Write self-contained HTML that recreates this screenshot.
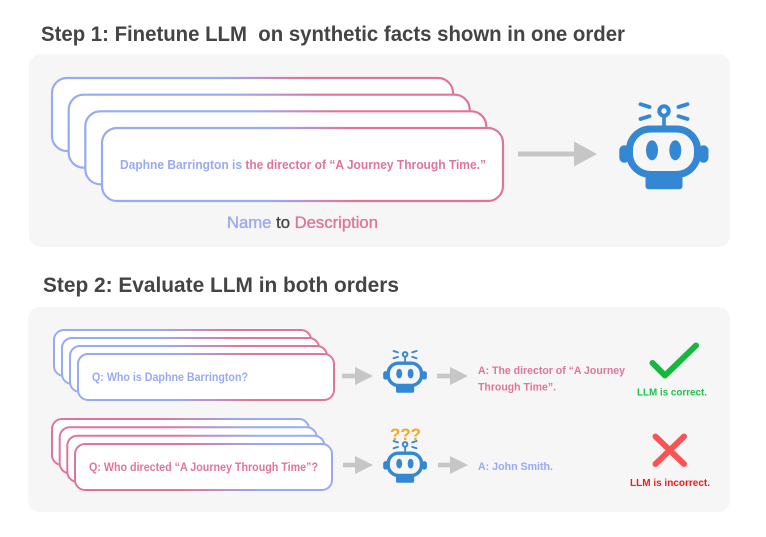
<!DOCTYPE html>
<html>
<head>
<meta charset="utf-8">
<style>
  html,body{margin:0;padding:0;background:#ffffff;}
  svg{display:block;}
  text{font-family:"Liberation Sans", "DejaVu Sans", sans-serif;font-weight:bold;}
</style>
</head>
<body>
<svg width="766" height="537" viewBox="0 0 766 537" xmlns="http://www.w3.org/2000/svg">
  <defs>
    <linearGradient id="bp1" x1="0" y1="0" x2="1" y2="0">
      <stop offset="0" stop-color="#98aaf4"/>
      <stop offset="0.42" stop-color="#98aaf4"/>
      <stop offset="0.62" stop-color="#e0759a"/>
      <stop offset="1" stop-color="#e0759a"/>
    </linearGradient>
    <linearGradient id="bp2" x1="0" y1="0" x2="1" y2="0">
      <stop offset="0" stop-color="#98aaf4"/>
      <stop offset="0.38" stop-color="#98aaf4"/>
      <stop offset="0.68" stop-color="#e0759a"/>
      <stop offset="1" stop-color="#e0759a"/>
    </linearGradient>
    <linearGradient id="pb2" x1="0" y1="0" x2="1" y2="0">
      <stop offset="0" stop-color="#e0759a"/>
      <stop offset="0.42" stop-color="#e0759a"/>
      <stop offset="0.74" stop-color="#98aaf4"/>
      <stop offset="1" stop-color="#98aaf4"/>
    </linearGradient>
    <g id="robot">
      <g stroke="#3487d3" stroke-width="3.8" stroke-linecap="round" fill="none">
        <line x1="28.5" y1="8.2" x2="37.5" y2="11"/>
        <line x1="28.5" y1="23" x2="37.5" y2="20.2"/>
        <line x1="66.5" y1="11" x2="75.5" y2="8.2"/>
        <line x1="66.5" y1="20.2" x2="75.5" y2="23"/>
        <circle cx="52" cy="15" r="4.7" stroke-width="4"/>
        <line x1="52" y1="20" x2="52" y2="31" stroke-width="3.6" stroke-linecap="butt"/>
        <rect x="17.5" y="33" width="68" height="45.5" rx="21" ry="21" stroke-width="7"/>
      </g>
      <g fill="#3487d3">
        <rect x="7.3" y="49.3" width="10" height="17.4" rx="5"/>
        <rect x="86.5" y="49.3" width="10" height="17.4" rx="5"/>
        <rect x="33.5" y="79" width="37" height="14.3" rx="3"/>
        <ellipse cx="40" cy="54.3" rx="6" ry="10"/>
        <ellipse cx="63.3" cy="54.3" rx="6" ry="10"/>
      </g>
    </g>
  </defs>

  <text x="41" y="41" font-size="21" fill="#444444" textLength="584" lengthAdjust="spacingAndGlyphs" xml:space="preserve">Step 1: Finetune LLM  on synthetic facts shown in one order</text>
  <text x="43" y="292" font-size="21" fill="#444444" textLength="356" lengthAdjust="spacingAndGlyphs">Step 2: Evaluate LLM in both orders</text>

  <rect x="29" y="54" width="701" height="193" rx="12" fill="#f6f6f6"/>
  <rect x="28" y="307" width="702" height="205" rx="12" fill="#f6f6f6"/>

  <g fill="#ffffff" stroke="url(#bp1)" stroke-width="2.2">
    <rect x="52" y="78" width="401" height="73" rx="15"/>
    <rect x="68.7" y="94.7" width="401" height="73" rx="15"/>
    <rect x="85.3" y="111.3" width="401" height="73" rx="15"/>
    <rect x="102" y="128" width="401" height="73" rx="15"/>
  </g>
  <text x="120" y="169" font-size="12.5" textLength="366" lengthAdjust="spacingAndGlyphs"><tspan fill="#98aaf4">Daphne Barrington is </tspan><tspan fill="#e0759a">the director of “A Journey Through Time.”</tspan></text>

  <text x="227" y="228" font-size="16.5" style="font-weight:normal" stroke-width="0.35" textLength="151" lengthAdjust="spacingAndGlyphs"><tspan fill="#98aaf4" stroke="#98aaf4">Name</tspan><tspan fill="#444444" stroke="#444444"> to </tspan><tspan fill="#e0759a" stroke="#e0759a">Description</tspan></text>

  <rect x="518" y="151.5" width="58" height="5" fill="#c6c6c6"/>
  <polygon points="574,141.5 597,154 574,166.5" fill="#c6c6c6"/>

  <use href="#robot" transform="translate(612,96)"/>

  <g fill="#ffffff" stroke="url(#bp2)" stroke-width="2">
    <rect x="54" y="330" width="257" height="46" rx="10"/>
    <rect x="62" y="338" width="257" height="46" rx="10"/>
    <rect x="70" y="346" width="257" height="46" rx="10"/>
    <rect x="78" y="354" width="256" height="46" rx="10"/>
  </g>
  <text x="92" y="381" font-size="12" fill="#98aaf4" textLength="156" lengthAdjust="spacingAndGlyphs">Q: Who is Daphne Barrington?</text>

  <g fill="#ffffff" stroke="url(#pb2)" stroke-width="2">
    <rect x="52" y="419" width="257" height="46" rx="10"/>
    <rect x="59.7" y="427.3" width="257" height="46" rx="10"/>
    <rect x="67.3" y="435.7" width="257" height="46" rx="10"/>
    <rect x="75" y="444" width="257" height="46" rx="10"/>
  </g>
  <text x="89" y="471" font-size="12" fill="#e0759a" textLength="229" lengthAdjust="spacingAndGlyphs">Q: Who directed “A Journey Through Time”?</text>

  <g fill="#c6c6c6">
    <rect x="342" y="373.7" width="15" height="4.6"/>
    <polygon points="355,367 373,376 355,385"/>
    <rect x="437" y="373.7" width="15" height="4.6"/>
    <polygon points="450,367 468,376 450,385"/>
    <rect x="343" y="462.7" width="15" height="4.6"/>
    <polygon points="355,456 373,465 355,474"/>
    <rect x="438" y="462.7" width="15" height="4.6"/>
    <polygon points="450,456 468,465 450,474"/>
  </g>

  <use href="#robot" transform="translate(379.6,347) scale(0.49)"/>
  <use href="#robot" transform="translate(379.6,437) scale(0.49)"/>
  <text x="390" y="440" font-size="17" fill="#f6a81c" textLength="31" lengthAdjust="spacingAndGlyphs">???</text>

  <text x="478" y="374" font-size="11" fill="#e0759a" textLength="147" lengthAdjust="spacingAndGlyphs">A: The director of “A Journey</text>
  <text x="478" y="390.5" font-size="11" fill="#e0759a" textLength="78" lengthAdjust="spacingAndGlyphs">Through Time”.</text>
  <text x="478" y="470" font-size="11" fill="#98aaf4" textLength="75" lengthAdjust="spacingAndGlyphs">A: John Smith.</text>

  <polyline points="652.5,363 665,375.5 696,345.5" fill="none" stroke="#14b83c" stroke-width="6" stroke-linecap="round" stroke-linejoin="round"/>
  <text x="637" y="395.5" font-size="10.5" fill="#1fc24a" textLength="70" lengthAdjust="spacingAndGlyphs">LLM is correct.</text>

  <g stroke="#fa5353" stroke-width="6" stroke-linecap="round">
    <line x1="655.5" y1="436.5" x2="684" y2="464"/>
    <line x1="684" y1="436.5" x2="655.5" y2="464"/>
  </g>
  <text x="630" y="486" font-size="10.5" fill="#ee1d1d" textLength="80" lengthAdjust="spacingAndGlyphs">LLM is incorrect.</text>
</svg>
</body>
</html>
